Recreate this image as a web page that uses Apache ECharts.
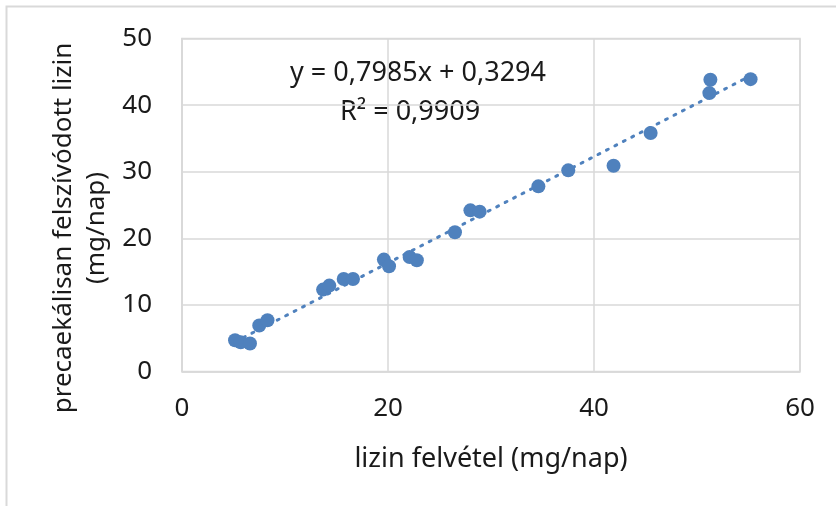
<!DOCTYPE html>
<html>
<head>
<meta charset="utf-8">
<script src="https://cdn.jsdelivr.net/npm/echarts@6/dist/echarts.min.js"></script>
<style>
  html, body { margin: 0; padding: 0; background: #fff; }
  #chart { width: 836px; height: 506px; }
</style>
</head>
<body>
<div id="chart"></div>
<script>
// lizin felvétel (mg/nap) vs. precaekálisan felszívódott lizin (mg/nap)
const intake = [5.15, 5.7, 6.6, 7.5, 8.3, 13.7, 14.3, 15.7, 16.6, 19.6, 20.1, 22.1, 22.8, 26.5, 28.0, 28.9, 34.6, 37.5, 41.9, 45.5, 51.2, 51.3, 55.2]
const absorbed = [4.7, 4.4, 4.2, 6.9, 7.7, 12.3, 12.9, 13.9, 13.9, 16.8, 15.8, 17.2, 16.7, 20.9, 24.2, 24.0, 27.8, 30.2, 30.9, 35.8, 41.8, 43.8, 43.9]
const slope = 0.7985
const intercept = 0.3294
const xTicks = [0, 20, 40, 60]
const yTicks = [0, 10, 20, 30, 40, 50]

const font = 'Noto Sans'
const blue = '#4f81bd'
const gridGray = '#d9d9d9'
const textColor = '#1a1a1a'

const points = intake.map((x, i) => [x, absorbed[i]])
const xMin = Math.min(...intake)
const xMax = Math.max(...intake)
const trend = [[xMin, slope * xMin + intercept], [xMax, slope * xMax + intercept]]

const chart = echarts.init(document.getElementById('chart'), null, { renderer: 'canvas' })
chart.setOption({
    animation: false,
    backgroundColor: '#fff',
    grid: { left: 182, right: 36, top: 38.5, bottom: 134.5, show: true, borderColor: gridGray, borderWidth: 1.5 },
    xAxis: {
        type: 'value',
        min: xTicks[0],
        max: xTicks[xTicks.length - 1],
        interval: 20,
        name: 'lizin felvétel (mg/nap)',
        nameLocation: 'middle',
        nameGap: 74,
        nameTextStyle: { fontFamily: font, fontSize: 27, color: textColor },
        axisLine: { show: true, lineStyle: { color: gridGray, width: 1.5 } },
        axisTick: { show: false },
        axisLabel: { fontFamily: font, fontSize: 26, color: textColor, margin: 24 },
        splitLine: { show: true, lineStyle: { color: gridGray, width: 1.5 } }
    },
    yAxis: {
        type: 'value',
        min: yTicks[0],
        max: yTicks[yTicks.length - 1],
        interval: 10,
        axisLine: { show: true, lineStyle: { color: gridGray, width: 1.5 } },
        axisTick: { show: false },
        axisLabel: { fontFamily: font, fontSize: 26, color: textColor, margin: 30 },
        splitLine: { show: true, lineStyle: { color: gridGray, width: 1.5 } }
    },
    series: [
        {
            type: 'line',
            data: trend,
            symbol: 'none',
            lineStyle: { color: blue, width: 3, type: [2, 7.5], cap: 'round' },
            z: 1
        },
        {
            type: 'scatter',
            data: points,
            symbol: 'circle',
            symbolSize: 14,
            itemStyle: { color: blue, opacity: 1 },
            z: 2
        }
    ],
    graphic: [
        {
            type: 'rect',
            shape: { x: 6.5, y: 6.5, width: 840, height: 510 },
            style: { fill: null, stroke: gridGray, lineWidth: 2 },
            silent: true
        },
        {
            type: 'text',
            x: 64, y: 228,
            rotation: Math.PI / 2,
            style: { text: 'precaekálisan felszívódott lizin', font: '26px "Noto Sans"', fill: textColor, align: 'center', verticalAlign: 'middle' }
        },
        {
            type: 'text',
            x: 97, y: 228,
            rotation: Math.PI / 2,
            style: { text: '(mg/nap)', font: '26px "Noto Sans"', fill: textColor, align: 'center', verticalAlign: 'middle' }
        },
        {
            type: 'text',
            x: 418, y: 73,
            style: { text: 'y = 0,7985x + 0,3294', font: '27px "Noto Sans"', fill: textColor, align: 'center', verticalAlign: 'middle' }
        },
        {
            type: 'text',
            x: 410, y: 112,
            style: { text: 'R² = 0,9909', font: '27px "Noto Sans"', fill: textColor, align: 'center', verticalAlign: 'middle' }
        }
    ]
})
</script>
</body>
</html>
